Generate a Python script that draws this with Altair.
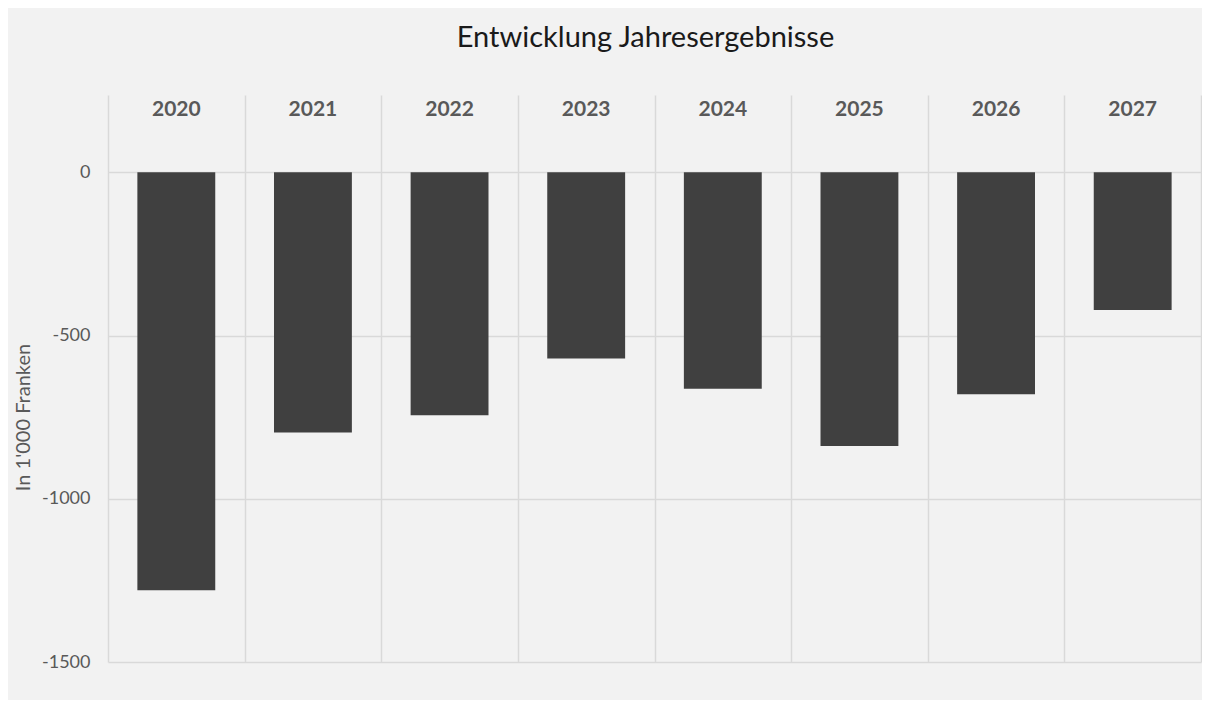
import altair as alt
import pandas as pd

years = ["2020", "2021", "2022", "2023", "2024", "2025", "2026", "2027"]
values = [-1280, -797, -744, -570, -663, -838, -680, -422]
y_ticks = [0, -500, -1000, -1500]

df = pd.DataFrame({"Jahr": years, "Ergebnis": values})

W, H = 1093, 567
FONT = "Lato"
GRID = "#d9d9d9"
TXT = "#595959"

y_scale = alt.Scale(domain=[-1500, 237], nice=False)
y_axis = alt.Axis(
    values=y_ticks, grid=True, gridColor=GRID, gridWidth=1.5,
    domain=False, ticks=False, tickSize=0, labelPadding=18,
    labelExpr="'' + datum.value",
    labelFontSize=18, labelColor=TXT, labelFont=FONT,
    title="In 1'000 Franken", titleX=-85, titleY=322, titleAngle=270,
    titleBaseline="middle", titleAlign="center", titleFontSize=20,
    titleFontWeight="normal", titleColor=TXT, titleFont=FONT,
)
y_enc = alt.Y("Ergebnis:Q", scale=y_scale, axis=y_axis)

grid_layer = alt.Chart(df).mark_bar(opacity=0).encode(
    x=alt.X("Jahr:N", sort=years,
            scale=alt.Scale(paddingInner=0, paddingOuter=0),
            axis=alt.Axis(orient="bottom", grid=True, tickBand="extent",
                          gridColor=GRID, gridWidth=1.5, labels=False,
                          ticks=False, domain=False, title=None)),
    y=y_enc,
    y2=alt.datum(0),
)

bars = alt.Chart(df).mark_bar(color="#404040").encode(
    x=alt.X("Jahr:N", sort=years,
            scale=alt.Scale(paddingInner=0.43, paddingOuter=0.215),
            axis=alt.Axis(orient="top", grid=False, domain=False, ticks=False,
                          tickSize=0, labelAngle=0, labelBaseline="middle",
                          labelPadding=0, offset=-14, labelFont=FONT,
                          labelFontSize=21, labelFontWeight="bold",
                          labelColor=TXT, title=None)),
    y=y_enc,
    y2=alt.datum(0),
)

chart = alt.layer(grid_layer, bars).resolve_scale(x="independent").properties(
    width=W, height=H,
    title=alt.TitleParams("Entwicklung Jahresergebnisse", fontSize=29, font=FONT,
                          fontWeight="normal", color="#1a1a1a", anchor="middle",
                          baseline="alphabetic", offset=19, dx=-9),
    background="#f2f2f2",
    padding={"left": 100, "top": 87, "right": 1, "bottom": 38},
    autosize=alt.AutoSizeParams(type="none"),
).configure_view(stroke=None)

chart.save("out.html", embed_options={"renderer": "svg", "actions": False})
